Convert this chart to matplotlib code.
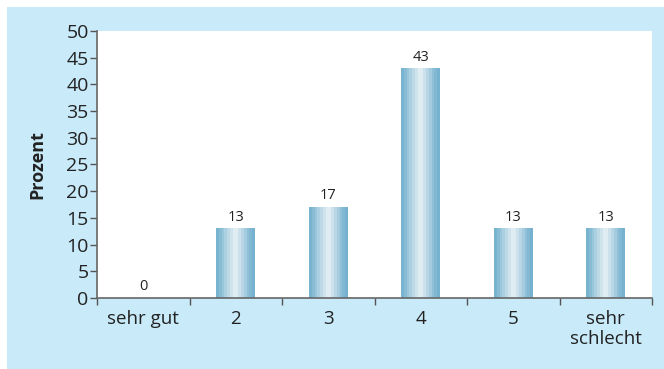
import numpy as np
import matplotlib
matplotlib.use('Agg')
import matplotlib.pyplot as plt
from matplotlib.patches import Rectangle
from matplotlib.colors import LinearSegmentedColormap

categories = ['sehr gut', '2', '3', '4', '5', 'sehr\nschlecht']
values = [0, 13, 17, 43, 13, 13]
yticks = list(range(0, 51, 5))

plt.rcParams['font.family'] = ['Open Sans', 'DejaVu Sans']

fig = plt.figure(figsize=(6.64, 3.69), dpi=100)
fig.patch.set_facecolor('white')
# light blue panel behind the chart
fig.patches.append(Rectangle((7 / 664, -0.05), 1.05, 1.05 - 7 / 369, transform=fig.transFigure,
                             facecolor='#c8eaf9', edgecolor='none', zorder=-1))

ax = fig.add_axes([97 / 664, 71 / 369, 555 / 664, 267 / 369])
ax.set_zorder(1)
ax.set_facecolor('white')

# stripe gradient for the bars (dark edges, light centre)
grad_cmap = LinearSegmentedColormap.from_list(
    'bar', ['#78b3d0', '#9cc8dc', '#c4dde9', '#e8f1f5', '#c0dbe8', '#93c2d9', '#76b1cf'])
grad = np.linspace(0, 1, 14).reshape(1, -1)

width = 0.42
x = np.arange(len(categories)) + 0.5
for xi, v in zip(x, values):
    if v > 0:
        ax.imshow(grad, cmap=grad_cmap, aspect='auto', interpolation='nearest',
                  extent=(xi - width / 2, xi + width / 2, 0, v), zorder=2)
    ax.text(xi, v + 0.7, str(v), ha='center', va='bottom', fontsize=10.5, color='#222222')

ax.set_xlim(0, len(categories))
ax.set_ylim(0, 50)
ax.set_yticks(yticks)
ax.set_yticklabels([str(t) for t in yticks], fontsize=14, color='#222222')
ax.set_xticks(np.arange(len(categories) + 1))
ax.set_xticklabels([])
ax.set_xticks(x, minor=True)
ax.set_xticklabels(categories, minor=True, fontsize=13.5, color='#222222', linespacing=1.1)
ax.tick_params(axis='x', which='minor', length=0, pad=9)
ax.tick_params(axis='x', which='major', length=5, width=1, color='#555555', direction='out')
ax.tick_params(axis='y', length=5, width=1, color='#555555', direction='out', pad=1)

for s in ['top', 'right']:
    ax.spines[s].set_visible(False)
for s in ['left', 'bottom']:
    ax.spines[s].set_color('#666666')
    ax.spines[s].set_linewidth(1.2)

ax.set_ylabel('Prozent', fontsize=13, fontweight='bold', color='#222222', labelpad=14)

fig.savefig('out.png', dpi=100)
